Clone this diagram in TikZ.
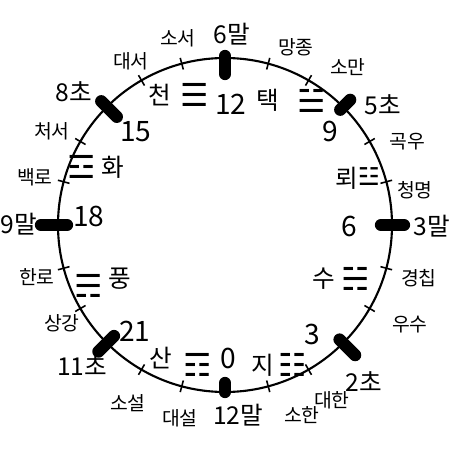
\documentclass[tikz,border=0pt]{standalone}
\usepackage{fontspec}
\setmainfont{Noto Sans CJK KR}
\newfontfamily\guafont{DejaVu Sans}
\usetikzlibrary{positioning}
\tikzset{
  rim/.style={line width=1.2pt,draw=black},
  termtick/.style={line width=0.9pt,draw=black},
  monthtick/.style={line width=7pt,line cap=round,draw=black},
  term/.style={inner sep=0pt,font=\fontsize{11}{12}\selectfont},
  month/.style={inner sep=0pt,font=\fontsize{14}{15}\selectfont},
  hour/.style={inner sep=0pt,font=\fontsize{16}{17}\selectfont},
  gua/.style={inner sep=0pt,font=\fontsize{14}{15}\selectfont},
  trigram/.style={inner sep=0pt,font=\guafont\fontsize{18}{19}\selectfont}
}
\begin{document}
\begin{tikzpicture}[x=0.02cm,y=0.02cm]
  \useasboundingbox (-225,-225) rectangle (225,225);

  \draw[rim] (0,0) circle (167);

  % solar terms: tick angle / label position
  \foreach \a/\x/\y/\t in {105/-47/187/소서, 120/-94/164/대서,
      150/-173/94/처서, 165/-190/48/백로, 195/-188/-52/한로,
      210/-163/-98/상강, 240/-97/-178/소설, 255/-45/-193/대설,
      285/77/-190/소한, 300/107/-175/대한, 330/185/-100/우수,
      345/194/-53/경칩, 15/190/35/청명, 30/182/83/곡우,
      60/123/158/소만, 75/71/178/망종} {
    \draw[termtick] (\a:161) -- (\a:173);
    \node[term] (term-\a) at (\x,\y) {\t};
  }

  % month marks: angle / inner / outer / label position
  \foreach \a/\r/\s/\x/\y/\t in {90/151/169/7/191/6말, 45/163/177/158/120/5초,
      0/156/179/207/-1/3말, -45/162/184/139/-157/2초,
      -90/158/167/13/-190/12말, 225/157/179/-143/-141/11초,
      180/158/184/-206/1/9말, 135/153/175/-151/133/8초} {
    \draw[monthtick] (\a:\r) -- (\a:\s);
    \node[month] (month-\t) at (\x,\y) {\t};
  }

  % hours
  \foreach \x/\y/\t in {6/121/12, 105/94/9, 124/-1/6, 87/-109/3,
      3/-133/0, -90/-106/21, -136/9/18, -89/93/15} {
    \node[hour] (hour-\t) at (\x,\y) {\t};
  }

  % trigrams
  \node[gua] (qian) at (-65,130) {천};
  \node[trigram,right=5pt of qian] (qian-sym) {☰};
  \node[gua] (dui) at (43,125) {택};
  \node[trigram] (dui-sym) at (87,124) {☱};
  \node[gua] (zhen) at (122,47) {뢰};
  \node[trigram,font=\guafont\fontsize{14}{15}\selectfont] (zhen-sym) at (144,48) {☳};
  \node[gua] (kan) at (99,-54) {수};
  \node[trigram,right=3pt of kan] (kan-sym) {☵};
  \node[gua] (kun) at (38,-140) {지};
  \node[trigram,right=2pt of kun] (kun-sym) {☷};
  \node[gua] (gen) at (-64,-133) {산};
  \node[trigram,right=6pt of gen,yshift=-4pt] (gen-sym) {☶};
  \node[gua] (li) at (-112,58) {화};
  \node[trigram,left=3pt of li] (li-sym) {☲};
  \node[gua] (xun) at (-105,-54) {풍};
  \node[trigram,left=3pt of xun,yshift=-4pt] (xun-sym) {☴};
\end{tikzpicture}
\end{document}
